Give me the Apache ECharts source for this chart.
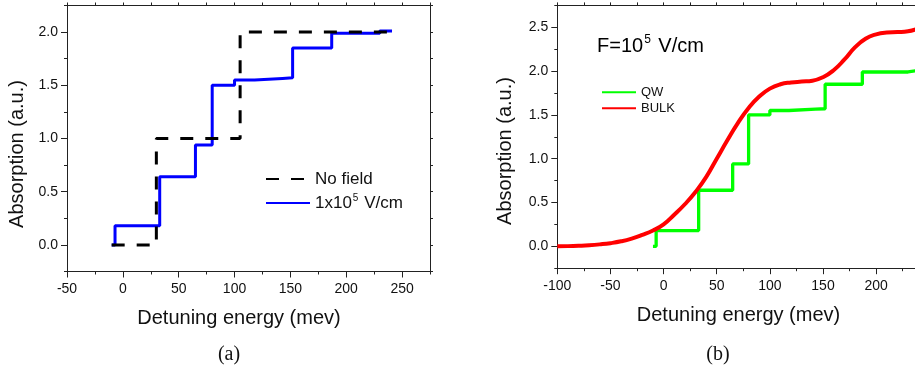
<!DOCTYPE html>
<html>
<head>
<meta charset="utf-8">
<script src="https://cdn.jsdelivr.net/npm/echarts@6/dist/echarts.min.js"></script>
<style>
  html, body { margin: 0; padding: 0; background: #fff; }
  #chart { width: 915px; height: 368px; }
</style>
</head>
<body>
<div id="chart"></div>
<script>
// Quantum-well absorption steps, with and without field (panel a)
const stepX = [-10, -7, 33, 65, 80, 100, 118, 143, 152, 187, 230, 241];
const fieldLevels = [0, 0.18, 0.64, 0.94, 1.5, 1.55, 1.565, 1.57, 1.85, 1.99, 2.01, 2.01];
const noFieldX = [-10, 30, 105, 240];
const noFieldLevels = [0, 1, 2, 2];

// Bulk absorption under field (panel b)
const bulkX = [-100, -90, -80, -70, -60, -50, -40, -30, -20, -10, 0, 10, 20, 30, 40, 50, 60, 70, 80, 90, 100, 110, 120, 130, 140, 150, 160, 170, 180, 190, 200, 210, 220, 230, 240];
const bulkY = [0, 0.002, 0.006, 0.012, 0.022, 0.036, 0.057, 0.088, 0.13, 0.18, 0.25, 0.36, 0.48, 0.62, 0.79, 1.0, 1.21, 1.41, 1.58, 1.71, 1.8, 1.85, 1.87, 1.88, 1.89, 1.93, 2.01, 2.13, 2.27, 2.37, 2.42, 2.44, 2.445, 2.455, 2.49];

// Tick positions
const xMajorA = [-50, 0, 50, 100, 150, 200, 250];
const xMinorA = [-25, 25, 75, 125, 175, 225, 275];
const yMajorA = [0, 0.5, 1, 1.5, 2];
const yMinorA = [-0.25, 0.25, 0.75, 1.25, 1.75, 2.25];
const xMajorB = [-100, -50, 0, 50, 100, 150, 200, 250];
const xMinorB = [-75, -25, 25, 75, 125, 175, 225];
const yMajorB = [0, 0.5, 1, 1.5, 2, 2.5];
const yMinorB = [-0.25, 0.25, 0.75, 1.25, 1.75, 2.25, 2.75];

const FONT = 'Liberation Sans, Arial, sans-serif';
const AXIS_COLOR = '#222';

const zip = (xs, ys) => xs.map((x, i) => [x, ys[i]]);

function valueAxis(o) {
  return Object.assign({
    type: 'value',
    splitLine: { show: false },
    axisLine: { show: true, onZero: false, lineStyle: { color: AXIS_COLOR, width: 1 } },
    axisTick: { show: false },
    axisLabel: { show: false },
  }, o);
}
function mainAxis(gridIndex, pos, min, max, majors, fmt) {
  return valueAxis({
    gridIndex, position: pos, min, max,
    axisTick: { show: true, inside: false, length: 6, customValues: majors, lineStyle: { color: AXIS_COLOR } },
    axisLabel: { show: true, customValues: majors, formatter: fmt, margin: pos === 'left' ? 9 : 11,
      color: '#111', fontFamily: FONT, fontSize: 14 },
  });
}
function minorAxis(gridIndex, pos, min, max, minors) {
  return valueAxis({
    gridIndex, position: pos, min, max,
    axisLine: { show: false, onZero: false },
    axisTick: { show: true, inside: false, length: 3, customValues: minors, lineStyle: { color: AXIS_COLOR } },
  });
}
function mirrorAxis(gridIndex, pos, min, max, ticks) {
  return valueAxis({
    gridIndex, position: pos, min, max,
    axisTick: { show: true, inside: false, length: 3, customValues: ticks, lineStyle: { color: AXIS_COLOR } },
  });
}

const fmtX = v => String(v);
const fmtY = v => v.toFixed(1);
const allA = xMajorA.concat(xMinorA).sort((a, b) => a - b);
const allB = xMajorB.concat(xMinorB).sort((a, b) => a - b);
const allYA = yMajorA.concat(yMinorA).sort((a, b) => a - b);
const allYB = yMajorB.concat(yMinorB).sort((a, b) => a - b);

const supRich = {
  a: { fontFamily: FONT, fontSize: 17, color: '#111', lineHeight: 20 },
  s: { fontFamily: FONT, fontSize: 10, color: '#111', lineHeight: 20, verticalAlign: 'top', padding: [0, 1, 0, 1] },
};

const option = {
  animation: false,
  backgroundColor: '#fff',
  grid: [
    { left: 67, top: 5.5, width: 363, height: 266, outerBoundsMode: 'none' },
    { left: 557.3, top: 5.4, width: 372, height: 262.8, outerBoundsMode: 'none' },
  ],
  xAxis: [
    mainAxis(0, 'bottom', -50, 275, xMajorA, fmtX),
    minorAxis(0, 'bottom', -50, 275, xMinorA),
    mirrorAxis(0, 'top', -50, 275, allA),
    mainAxis(1, 'bottom', -100, 250, xMajorB, fmtX),
    minorAxis(1, 'bottom', -100, 250, xMinorB),
    mirrorAxis(1, 'top', -100, 250, allB),
  ],
  yAxis: [
    mainAxis(0, 'left', -0.25, 2.25, yMajorA, fmtY),
    minorAxis(0, 'left', -0.25, 2.25, yMinorA),
    mirrorAxis(0, 'right', -0.25, 2.25, allYA),
    mainAxis(1, 'left', -0.25, 2.75, yMajorB, fmtY),
    minorAxis(1, 'left', -0.25, 2.75, yMinorB),
    mirrorAxis(1, 'right', -0.25, 2.75, allYB),
  ],
  legend: [
    {
      left: 260, top: 164, orient: 'vertical',
      itemWidth: 44, itemHeight: 20, itemGap: 4,
      itemStyle: { opacity: 0 },
      data: ['No field', '1x10^5 V/cm'],
      formatter: name => name.indexOf('^') >= 0
        ? '{a|' + name.split('^')[0] + '}{s|' + name.split('^')[1][0] + '}{a|' + name.split('^')[1].slice(1) + '}'
        : '{a|' + name + '}',
      textStyle: { rich: supRich, fontFamily: FONT, fontSize: 17, lineHeight: 20 },
    },
    {
      left: 596, top: 79.3, orient: 'vertical',
      itemWidth: 34, itemHeight: 16, itemGap: 0,
      itemStyle: { opacity: 0 },
      data: ['QW', 'BULK'],
      textStyle: { fontFamily: FONT, fontSize: 13, color: '#111', lineHeight: 16 },
    },
  ],
  graphic: [
    { type: 'text', x: 17, y: 154, rotation: Math.PI / 2,
      style: { text: 'Absorption (a.u.)', font: '20px ' + FONT, fill: '#111', align: 'center', verticalAlign: 'middle' } },
    { type: 'text', x: 505, y: 151, rotation: Math.PI / 2,
      style: { text: 'Absorption (a.u.)', font: '20px ' + FONT, fill: '#111', align: 'center', verticalAlign: 'middle' } },
    { type: 'text', x: 239, y: 318,
      style: { text: 'Detuning energy (mev)', font: '20px ' + FONT, fill: '#111', align: 'center', verticalAlign: 'middle' } },
    { type: 'text', x: 738.5, y: 315,
      style: { text: 'Detuning energy (mev)', font: '20px ' + FONT, fill: '#111', align: 'center', verticalAlign: 'middle' } },
    { type: 'text', x: 229, y: 355,
      style: { text: '(a)', font: '20px Liberation Serif, Times New Roman, serif', fill: '#111', align: 'center', verticalAlign: 'middle' } },
    { type: 'text', x: 718, y: 355,
      style: { text: '(b)', font: '20px Liberation Serif, Times New Roman, serif', fill: '#111', align: 'center', verticalAlign: 'middle' } },
    { type: 'text', x: 597, y: 46,
      style: {
        text: '{a|F=10}{s|5}{a| V/cm}',
        verticalAlign: 'middle',
        rich: {
          a: { fontFamily: FONT, fontSize: 20, color: '#111', lineHeight: 24 },
          s: { fontFamily: FONT, fontSize: 12, color: '#111', lineHeight: 24, verticalAlign: 'top', padding: [0, 2, 0, 1] },
        },
      } },
  ],
  series: [
    {
      name: '1x10^5 V/cm', type: 'line', xAxisIndex: 0, yAxisIndex: 0,
      step: 'end', showSymbol: false, symbol: 'none',
      lineStyle: { color: '#0000ff', width: 3 }, itemStyle: { color: '#0000ff' },
      data: zip(stepX, fieldLevels), z: 2,
    },
    {
      name: 'No field', type: 'line', xAxisIndex: 0, yAxisIndex: 0,
      step: 'end', showSymbol: false, symbol: 'none',
      lineStyle: { color: '#000', width: 3, type: [13, 12] }, itemStyle: { color: '#000' },
      data: zip(noFieldX, noFieldLevels), z: 3,
    },
    {
      name: 'QW', type: 'line', xAxisIndex: 3, yAxisIndex: 3,
      step: 'end', showSymbol: false, symbol: 'none',
      lineStyle: { color: '#00ff00', width: 3.3 }, itemStyle: { color: '#00ff00' },
      data: zip(stepX, fieldLevels), z: 2,
    },
    {
      name: 'BULK', type: 'line', xAxisIndex: 3, yAxisIndex: 3,
      smooth: 0.5, showSymbol: false, symbol: 'none',
      lineStyle: { color: '#ff0000', width: 4 }, itemStyle: { color: '#ff0000' },
      data: zip(bulkX, bulkY), z: 3,
    },
  ],
};

const chart = echarts.init(document.getElementById('chart'), null, { renderer: 'canvas' });
chart.setOption(option);
</script>
</body>
</html>
